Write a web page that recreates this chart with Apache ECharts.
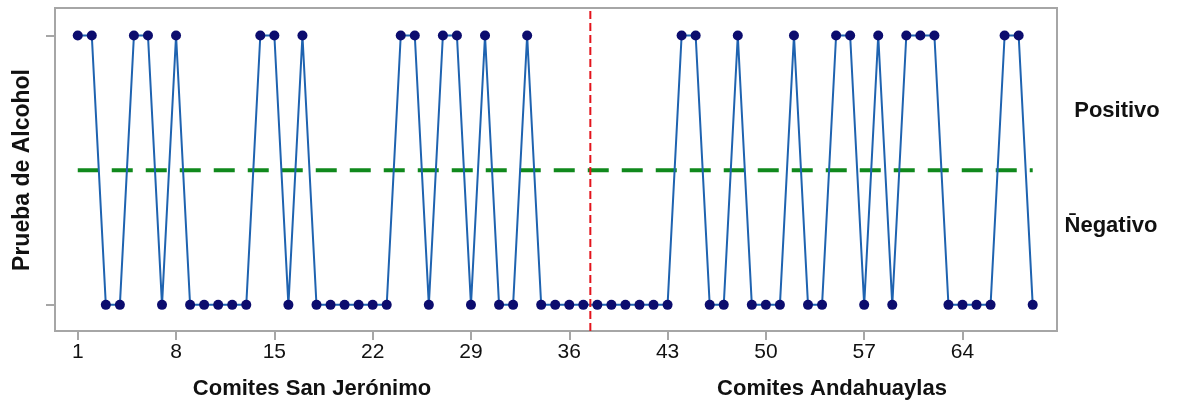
<!DOCTYPE html>
<html>
<head>
<meta charset="utf-8">
<script src="https://cdn.jsdelivr.net/npm/echarts@6/dist/echarts.min.js"></script>
<style>
html,body{margin:0;padding:0;background:#fff;}
#chart{width:1179px;height:402px;}
</style>
</head>
<body>
<div id="chart"></div>
<script>
// ---- data ----
const comites = [1,2,3,4,5,6,7,8,9,10,11,12,13,14,15,16,17,18,19,20,21,22,23,24,25,26,27,28,29,30,31,32,33,34,35,36,37,38,39,40,41,42,43,44,45,46,47,48,49,50,51,52,53,54,55,56,57,58,59,60,61,62,63,64,65,66,67,68,69];
// 1 = Positivo, 0 = Negativo
const pruebaAlcohol = [1,1,0,0,1,1,0,1,0,0, 0,0,0,1,1,0,1,0,0,0, 0,0,0,1,1,0,1,1,0,1, 0,0,1,0,0,0,0,0,0,0, 0,0,0,1,1,0,0,1,0,0, 0,1,0,0,1,1,0,1,0,1, 1,1,0,0,0,0,1,1,0];
const xTicks = [1,8,15,22,29,36,43,50,57,64];
const yTicks = [0,1];
const threshold = 0.5;
const thresholdRange = [1,69];
const divider = 37.5;
const groupNames = ['Comites San Jerónimo','Comites Andahuaylas'];
const yName = 'Prueba de Alcohol';
const levelNames = ['Positivo','N\u0304egativo'];

// ---- chart ----
const X_MIN = -0.62, X_MAX = 70.73, Y_MIN = -0.097, Y_MAX = 1.102;
const chart = echarts.init(document.getElementById('chart'), null, {renderer:'canvas'});
const grey = '#a6a6a6';
const boldFont = 'Liberation Sans, Arial, sans-serif';

const option = {
  animation: false,
  backgroundColor: '#fff',
  grid: {left:55, top:8, width:1002, height:323, show:true, borderColor:grey, borderWidth:2, backgroundColor:'#fff'},
  xAxis: {
    type:'value', min:X_MIN, max:X_MAX, position:'bottom',
    axisLine:{show:false, onZero:false},
    splitLine:{show:false},
    axisTick:{show:true, customValues:xTicks, length:9, lineStyle:{color:grey, width:2}},
    axisLabel:{show:true, customValues:xTicks, margin:11, fontSize:21, color:'#111',
      fontFamily:'Liberation Sans Narrow, Arial Narrow, Liberation Sans, sans-serif'}
  },
  yAxis: {
    type:'value', min:Y_MIN, max:Y_MAX, position:'left',
    axisLine:{show:false, onZero:false},
    splitLine:{show:false},
    axisTick:{show:true, customValues:yTicks, length:9, lineStyle:{color:grey, width:2}},
    axisLabel:{show:false, customValues:yTicks}
  },
  series: [
    {
      type:'line', z:1, silent:true, symbol:'none',
      data: thresholdRange.map(x => [x, threshold]),
      lineStyle:{color:'#10891c', width:4, type:[21,13]}
    },
    {
      type:'line', z:2, silent:true,
      data: comites.map((c,i) => [c, pruebaAlcohol[i]]),
      symbol:'circle', symbolSize:10,
      itemStyle:{color:'#0c0c6e'},
      lineStyle:{color:'#1f63b0', width:2}
    },
    {
      type:'line', z:3, silent:true, symbol:'none',
      data: [[divider, Y_MIN],[divider, Y_MAX]],
      lineStyle:{color:'#e3141c', width:2, type:[8,4]}
    }
  ],
  graphic: [
    {type:'text', x:23, y:170, rotation:Math.PI/2,
      style:{text:yName, font:'bold 23px '+boldFont, fill:'#111', textAlign:'center', textVerticalAlign:'middle'}},
    {type:'text', x:312, y:389,
      style:{text:groupNames[0], font:'bold 22px '+boldFont, fill:'#111', textAlign:'center', textVerticalAlign:'middle'}},
    {type:'text', x:832, y:389,
      style:{text:groupNames[1], font:'bold 22px '+boldFont, fill:'#111', textAlign:'center', textVerticalAlign:'middle'}},
    {type:'text', x:1117, y:111,
      style:{text:levelNames[0], font:'bold 22px '+boldFont, fill:'#111', textAlign:'center', textVerticalAlign:'middle'}},
    {type:'text', x:1111, y:226,
      style:{text:levelNames[1], font:'bold 22px '+boldFont, fill:'#111', textAlign:'center', textVerticalAlign:'middle'}}
  ]
};
chart.setOption(option);
</script>
</body>
</html>
